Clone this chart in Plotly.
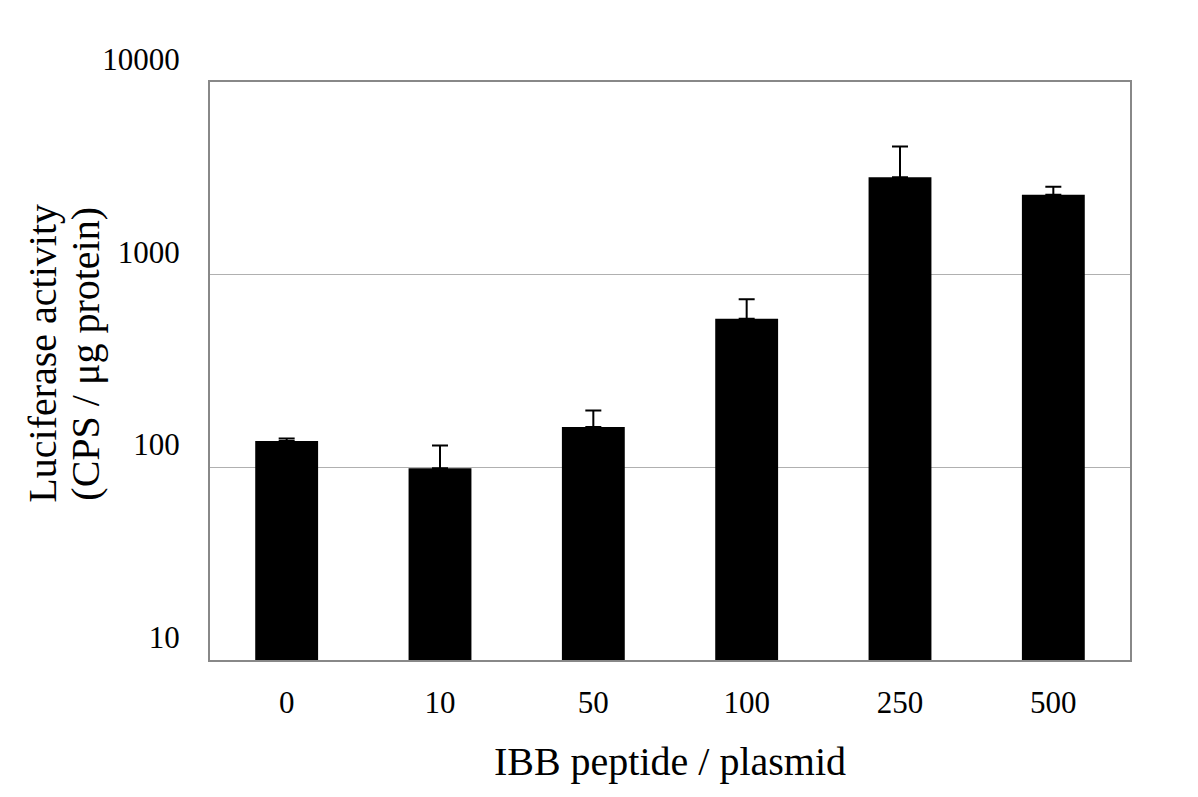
import plotly.graph_objects as go

categories = ["0", "10", "50", "100", "250", "500"]
activity = [137, 99, 162, 590, 3200, 2600]
error_up = [4, 31, 35, 155, 1420, 260]
y_ticks = [10, 100, 1000, 10000]
y_title_lines = ["Luciferase activity", "(CPS / μg protein)"]

FONT = "Liberation Serif, Times New Roman, serif"

fig = go.Figure()

fig.add_trace(go.Bar(
    x=categories,
    y=activity,
    marker=dict(color="black", line=dict(width=0)),
    width=0.41,
    error_y=dict(
        type="data",
        symmetric=False,
        array=error_up,
        arrayminus=[0] * len(error_up),
        color="black",
        thickness=2,
        width=8,
    ),
    showlegend=False,
))

# page body has an 8px margin, so the margins are offset by that much
fig.update_layout(
    width=1198,
    height=797,
    margin=dict(l=202, r=76, t=74, b=145),
    plot_bgcolor="white",
    paper_bgcolor="white",
    font=dict(family=FONT, size=31, color="black"),
)

fig.update_xaxes(
    type="category",
    automargin=False,
    showline=True, linecolor="#888888", linewidth=2, mirror=True,
    showgrid=False, ticks="",
    ticklabelstandoff=14,
    title=dict(text="IBB peptide / plasmid", font=dict(size=40), standoff=28),
)

fig.update_yaxes(
    type="log",
    range=[1, 4],
    automargin=False,
    tickvals=y_ticks,
    ticktext=[str(v) for v in y_ticks],
    showline=True, linecolor="#888888", linewidth=2, mirror=True,
    showgrid=True, gridcolor="#b0b0b0", gridwidth=1,
    ticks="",
    ticklabelstandoff=22,
    ticklabelshift=-23,
)

# two-line y title, placed as rotated text to keep the tight line spacing
for text, shift in zip(y_title_lines, [-167, -124]):
    fig.add_annotation(
        text=text, textangle=-90,
        xref="paper", yref="paper", x=0, y=0.53,
        xanchor="center", yanchor="middle", xshift=shift,
        showarrow=False, font=dict(size=40, family=FONT, color="black"),
    )

fig.write_html("out.html")
